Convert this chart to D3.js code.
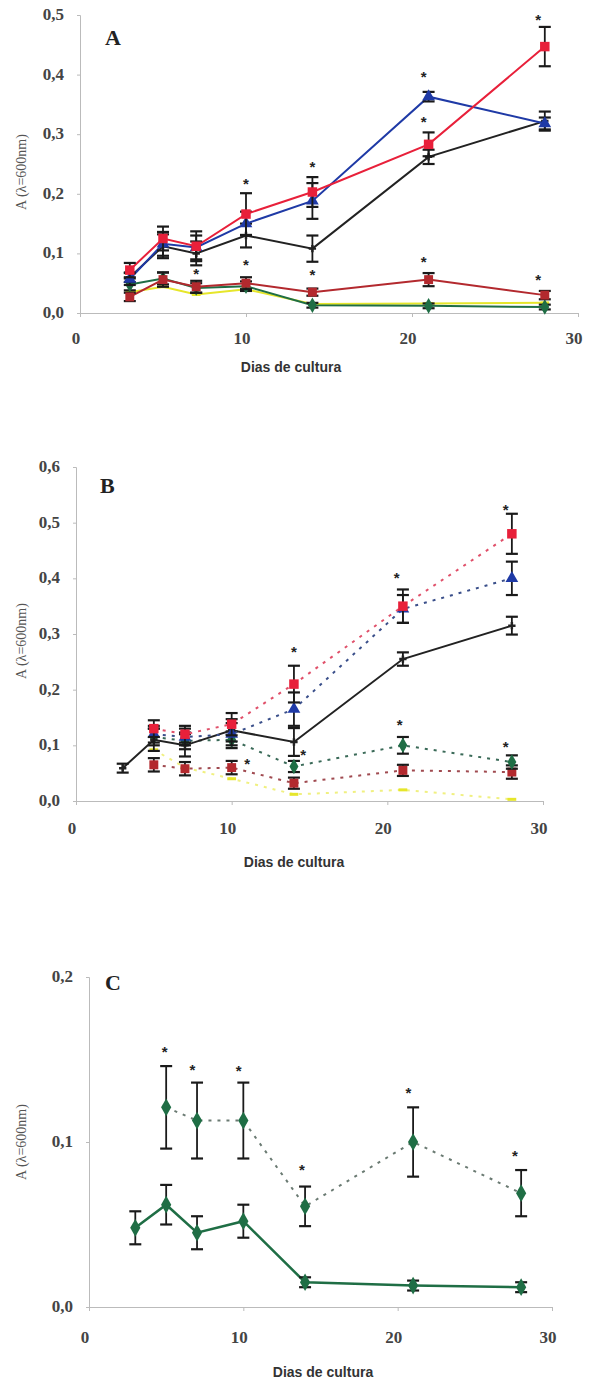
<!DOCTYPE html>
<html>
<head>
<script src="https://d3js.org/d3.v7.min.js"></script>
<style>
  body { margin: 0; background: #ffffff; }
  .tick-label { font-family: "Liberation Serif", serif; font-weight: bold; font-size: 17px; fill: #444; }
  .ytitle { font-family: "Liberation Serif", serif; font-size: 14px; fill: #555; }
  .xtitle { font-family: "Liberation Sans", Arial, sans-serif; font-weight: bold; font-size: 14px; fill: #333; }
  .letter { font-family: "Liberation Serif", serif; font-weight: bold; font-size: 22px; fill: #222; }
  .star { font-family: "Liberation Sans", sans-serif; font-weight: bold; font-size: 15px; fill: #222; }
</style>
</head>
<body>
<div id="chart"></div>
<script>
// days of culture
var days = [3, 5, 7, 10, 14, 21, 28];
var daysB = [5, 7, 10, 14, 21, 28];

// panel A
var aYellow = [0.035, 0.044, 0.031, 0.040, 0.015, 0.016, 0.017];
var aYellowErr = [0, 0, 0, 0, 0, 0, 0];
var aGreen = [0.048, 0.058, 0.042, 0.045, 0.013, 0.012, 0.010];
var aGreenErr = [0.010, 0.010, 0.008, 0.008, 0.004, 0.004, 0.004];
var aDarkRed = [0.027, 0.056, 0.044, 0.050, 0.035, 0.056, 0.030];
var aDarkRedErr = [0.007, 0.012, 0.010, 0.010, 0.006, 0.011, 0.007];
var aBlack = [0.060, 0.112, 0.100, 0.130, 0.108, 0.262, 0.322];
var aBlackErr = [0.008, 0.020, 0.020, 0.020, 0.022, 0.012, 0.016];
var aBlue = [0.057, 0.116, 0.110, 0.150, 0.188, 0.363, 0.318];
var aBlueErr = [0.010, 0.020, 0.020, 0.020, 0.030, 0.008, 0.010];
var aRed = [0.072, 0.125, 0.112, 0.166, 0.203, 0.283, 0.447];
var aRedErr = [0.012, 0.020, 0.025, 0.035, 0.025, 0.020, 0.033];
var aStarDays = [7, 10, 10, 14, 14, 20.7, 20.7, 20.7, 27.6, 27.6];
var aStarVals = [0.068, 0.220, 0.084, 0.248, 0.067, 0.400, 0.324, 0.089, 0.495, 0.059];

// panel B
var bBlack = [0.059, 0.110, 0.100, 0.127, 0.106, 0.255, 0.315];
var bBlackErr = [0.008, 0.020, 0.020, 0.020, 0.025, 0.012, 0.016];
var bYellow = [0.092, 0.060, 0.040, 0.012, 0.020, 0.003];
var bYellowErr = [0, 0, 0, 0, 0, 0];
var bGreen = [0.115, 0.108, 0.110, 0.062, 0.100, 0.070];
var bGreenErr = [0.015, 0.015, 0.015, 0.010, 0.015, 0.012];
var bDarkRed = [0.065, 0.058, 0.060, 0.032, 0.055, 0.052];
var bDarkRedErr = [0.012, 0.012, 0.012, 0.010, 0.010, 0.012];
var bBlue = [0.120, 0.115, 0.120, 0.165, 0.345, 0.400];
var bBlueErr = [0.015, 0.015, 0.020, 0.030, 0.025, 0.030];
var bRed = [0.130, 0.120, 0.138, 0.210, 0.350, 0.480];
var bRedErr = [0.015, 0.015, 0.020, 0.033, 0.030, 0.036];
var bStarDays = [14, 11, 14.6, 20.6, 20.8, 27.6, 27.6];
var bStarVals = [0.271, 0.070, 0.087, 0.405, 0.140, 0.526, 0.100];

// panel C
var cSolid = [0.048, 0.062, 0.045, 0.052, 0.015, 0.013, 0.012];
var cSolidErr = [0.010, 0.012, 0.010, 0.010, 0.003, 0.003, 0.003];
var cDotted = [0.121, 0.113, 0.113, 0.061, 0.100, 0.069];
var cDottedErr = [0.025, 0.023, 0.023, 0.012, 0.021, 0.014];
var cStarDays = [4.9, 6.7, 9.7, 13.8, 20.7, 27.6];
var cStarVals = [0.156, 0.145, 0.144, 0.084, 0.131, 0.093];

var xTicks = [0, 10, 20, 30];
var aTicks = [0, 0.1, 0.2, 0.3, 0.4, 0.5];
var bTicks = [0, 0.1, 0.2, 0.3, 0.4, 0.5, 0.6];
var cTicks = [0, 0.1, 0.2];

var svg = d3.select("#chart").append("svg").attr("width", 590).attr("height", 1380);

var dash = { draw: function (ctx, size) { var w = Math.sqrt(size) * 1.6, h = 3; ctx.rect(-w / 2, -h / 2, w, h); } };

function zip(xs, ys, es) {
  return xs.map(function (d, i) { return { x: d, y: ys[i], e: es[i] }; });
}

function panel(p) {
  var xs = d3.scaleLinear().domain([0, 30]).range(p.xr);
  var ys = d3.scaleLinear().domain(p.yd).range(p.yr);
  var g = svg.append("g");

  // axes
  var xAxis = d3.axisBottom(xs).tickValues(xTicks).tickSize(4).tickFormat("");
  var gx = g.append("g").attr("transform", "translate(0," + p.yr[0] + ")").call(xAxis);
  var yAxis = d3.axisLeft(ys).tickValues(p.ticks).tickSize(3).tickFormat("");
  var gy = g.append("g").attr("transform", "translate(" + p.xr[0] + ",0)").call(yAxis);
  [gx, gy].forEach(function (a) {
    a.select(".domain").attr("stroke", "#bbb");
    a.selectAll(".tick line").attr("stroke", "#bbb");
  });

  g.selectAll(".ylab").data(p.ticks).enter().append("text")
    .attr("class", "tick-label")
    .attr("x", p.xr[0] - 16).attr("y", function (d) { return ys(d) + 5; })
    .attr("text-anchor", "end")
    .text(function (d) { return d3.format(".1f")(d).replace(".", ","); });

  g.selectAll(".xlab").data(xTicks).enter().append("text")
    .attr("class", "tick-label")
    .attr("x", function (d) { return xs(d) - 4; }).attr("y", p.yr[0] + p.xlabDy)
    .attr("text-anchor", "middle")
    .text(function (d) { return d; });

  g.append("text").attr("class", "letter").attr("x", p.letterPos[0]).attr("y", p.letterPos[1]).text(p.letter);

  g.append("text").attr("class", "ytitle")
    .attr("transform", "translate(" + p.ytitlePos[0] + "," + p.ytitlePos[1] + ") rotate(-90)")
    .attr("text-anchor", "middle")
    .text("A (λ=600nm)");

  g.append("text").attr("class", "xtitle")
    .attr("x", p.xtitlePos[0]).attr("y", p.xtitlePos[1])
    .attr("text-anchor", "middle")
    .text("Dias de cultura");

  var line = d3.line().x(function (d) { return xs(d.x); }).y(function (d) { return ys(d.y); });

  p.series.forEach(function (s) {
    var pts = zip(s.days, s.vals, s.errs);
    g.append("path").datum(pts)
      .attr("fill", "none")
      .attr("stroke", s.lineColor || s.color)
      .attr("stroke-width", s.width || 2)
      .attr("stroke-dasharray", s.dotted ? "3,6" : null)
      .attr("d", line);

    var eb = g.append("g").attr("stroke", "#1a1a1a").attr("stroke-width", 1.8);
    pts.filter(function (d) { return d.e > 0; }).forEach(function (d) {
      var cx = xs(d.x), y1 = ys(d.y + d.e), y2 = ys(d.y - d.e);
      eb.append("line").attr("x1", cx).attr("x2", cx).attr("y1", y1).attr("y2", y2);
      eb.append("line").attr("x1", cx - 6).attr("x2", cx + 6).attr("y1", y1).attr("y2", y1).attr("stroke-width", 2.2);
      eb.append("line").attr("x1", cx - 6).attr("x2", cx + 6).attr("y1", y2).attr("y2", y2).attr("stroke-width", 2.2);
    });

    g.selectAll(null).data(pts).enter().append("path")
      .attr("transform", function (d) { return "translate(" + xs(d.x) + "," + ys(d.y) + ")"; })
      .attr("d", d3.symbol().type(s.symbol).size(s.size || 80))
      .attr("fill", s.color);
  });

  g.selectAll(".star").data(p.starDays).enter().append("text")
    .attr("class", "star")
    .attr("x", function (d) { return xs(d); })
    .attr("y", function (d, i) { return ys(p.starVals[i]) + 7; })
    .attr("text-anchor", "middle")
    .text("*");
}

var RED = "#e8203a", BLUE = "#1f3aa6", BLACK = "#222222", DRED = "#b3292e", GREEN = "#1f6e45", YEL = "#e6e62a";

panel({
  xr: [80, 578], yd: [0, 0.5], yr: [313, 15], ticks: aTicks, xlabDy: 31,
  letter: "A", letterPos: [105, 45], ytitlePos: [26, 172], xtitlePos: [291, 372],
  series: [
    { days: days, vals: aYellow, errs: aYellowErr, color: YEL, symbol: dash, size: 30 },
    { days: days, vals: aGreen, errs: aGreenErr, color: GREEN, symbol: d3.symbolDiamond, size: 70 },
    { days: days, vals: aDarkRed, errs: aDarkRedErr, color: DRED, symbol: d3.symbolSquare, size: 80 },
    { days: days, vals: aBlack, errs: aBlackErr, color: BLACK, symbol: d3.symbolCross, size: 30 },
    { days: days, vals: aBlue, errs: aBlueErr, color: BLUE, symbol: d3.symbolTriangle, size: 70 },
    { days: days, vals: aRed, errs: aRedErr, color: RED, symbol: d3.symbolSquare, size: 90 }
  ],
  starDays: aStarDays, starVals: aStarVals
});

panel({
  xr: [76, 543], yd: [0, 0.6], yr: [801, 467], ticks: bTicks, xlabDy: 33,
  letter: "B", letterPos: [100, 493], ytitlePos: [26, 641], xtitlePos: [294, 867],
  series: [
    { days: daysB, vals: bYellow, errs: bYellowErr, color: YEL, lineColor: "#f0f080", symbol: dash, size: 30, dotted: true },
    { days: daysB, vals: bDarkRed, errs: bDarkRedErr, color: DRED, lineColor: "#a04a50", symbol: d3.symbolSquare, size: 80, dotted: true },
    { days: daysB, vals: bGreen, errs: bGreenErr, color: GREEN, lineColor: "#3a6a58", symbol: d3.symbolDiamond, size: 70, dotted: true },
    { days: days, vals: bBlack, errs: bBlackErr, color: BLACK, symbol: d3.symbolCross, size: 30 },
    { days: daysB, vals: bBlue, errs: bBlueErr, color: BLUE, lineColor: "#3a4f8a", symbol: d3.symbolTriangle, size: 70, dotted: true },
    { days: daysB, vals: bRed, errs: bRedErr, color: RED, lineColor: "#e0506a", symbol: d3.symbolSquare, size: 90, dotted: true }
  ],
  starDays: bStarDays, starVals: bStarVals
});

panel({
  xr: [89, 552], yd: [0, 0.2], yr: [1307, 977], ticks: cTicks, xlabDy: 36,
  letter: "C", letterPos: [105, 990], ytitlePos: [26, 1142], xtitlePos: [323, 1377],
  series: [
    { days: days, vals: cSolid, errs: cSolidErr, color: GREEN, symbol: d3.symbolDiamond, size: 90, width: 2.5 },
    { days: daysB, vals: cDotted, errs: cDottedErr, color: GREEN, lineColor: "#6a7a72", symbol: d3.symbolDiamond, size: 90, dotted: true }
  ],
  starDays: cStarDays, starVals: cStarVals
});
</script>
</body>
</html>
